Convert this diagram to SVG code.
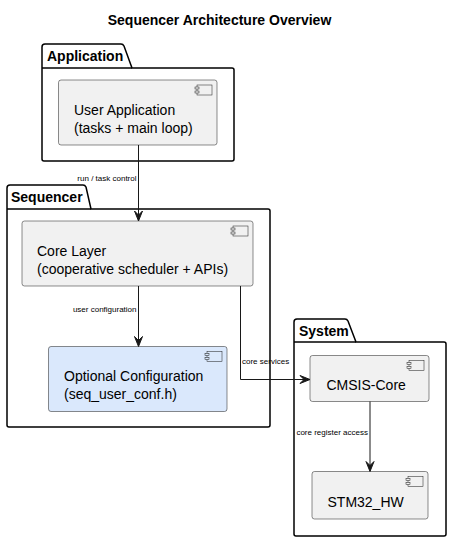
<svg xmlns="http://www.w3.org/2000/svg" width="452" height="541" viewBox="0 0 452 541">
<defs>
<style>
text{font-family:"Liberation Sans",Arial,sans-serif;fill:#000}
.title{font-size:14px;font-weight:bold}
.pkg{fill:#fff;stroke:#000;stroke-width:1.5}
.pkgl{font-size:14px;font-weight:bold}
.node{fill:#F1F1F1;stroke:#181818;stroke-width:0.5}
.cfg{fill:#DAE8FC;stroke:#181818;stroke-width:0.5}
.nt{font-size:14px}
.ico{fill:none;stroke:#181818;stroke-width:0.5}
.icof{stroke:#181818;stroke-width:0.5}
.edge{fill:none;stroke:#181818;stroke-width:1}
.el{font-size:8px}
.ah{fill:#181818;stroke:#181818;stroke-width:1}
</style>
<g id="icon">
<rect class="ico" x="-20" y="5" width="15" height="10"/>
<rect class="icof" x="-22" y="7" width="4" height="2" fill="#F1F1F1"/>
<rect class="icof" x="-22" y="11" width="4" height="2" fill="#F1F1F1"/>
</g>
<g id="iconb">
<rect class="ico" x="-20" y="5" width="15" height="10"/>
<rect class="icof" x="-22" y="7" width="4" height="2" fill="#DAE8FC"/>
<rect class="icof" x="-22" y="11" width="4" height="2" fill="#DAE8FC"/>
</g>
</defs>
<rect width="452" height="541" fill="#fff"/>
<text class="title" x="219.5" y="25" text-anchor="middle">Sequencer Architecture Overview</text>

<g id="pkg-application">
<path class="pkg" d="M45,44 L121,44 Q123,44 124,46 L132,68 L232,68 Q234,68 234,70 L234,159 Q234,161 232,161 L44,161 Q42,161 42,159 L42,47 Q42,44 45,44 Z"/>
<line x1="42" y1="68" x2="132" y2="68" stroke="#000" stroke-width="1.5"/>
<text class="pkgl" x="47" y="61">Application</text>
</g>

<g id="pkg-sequencer">
<path class="pkg" d="M10,185 L83,185 Q85,185 86,187 L91,209 L268,209 Q270,209 270,211 L270,425 Q270,427 268,427 L9,427 Q7,427 7,425 L7,188 Q7,185 10,185 Z"/>
<line x1="7" y1="209" x2="91" y2="209" stroke="#000" stroke-width="1.5"/>
<text class="pkgl" x="11" y="202">Sequencer</text>
</g>

<g id="pkg-system">
<path class="pkg" d="M297,319 L345,319 Q347,319 348,321 L356,342 L444,342 Q446,342 446,344 L446,534 Q446,536 444,536 L296,536 Q294,536 294,534 L294,322 Q294,319 297,319 Z"/>
<line x1="294" y1="342" x2="356" y2="342" stroke="#000" stroke-width="1.5"/>
<text class="pkgl" x="299" y="336">System</text>
</g>

<g id="node-user-application">
<rect class="node" x="58.5" y="80" width="158.5" height="65" rx="2.5"/>
<use href="#icon" x="217" y="80"/>
<text class="nt" x="74" y="115">User Application</text>
<text class="nt" x="74" y="133">(tasks + main loop)</text>
</g>

<g id="node-core-layer">
<rect class="node" x="22" y="221" width="231" height="65" rx="2.5"/>
<use href="#icon" x="253" y="221"/>
<text class="nt" x="37" y="256">Core Layer</text>
<text class="nt" x="37" y="274">(cooperative scheduler + APIs)</text>
</g>

<g id="node-optional-configuration">
<rect class="cfg" x="48.5" y="346.5" width="178.5" height="65" rx="2.5"/>
<use href="#iconb" x="227" y="346.5"/>
<text class="nt" x="64" y="381">Optional Configuration</text>
<text class="nt" x="64" y="399">(seq_user_conf.h)</text>
</g>

<g id="node-cmsis-core">
<rect class="node" x="310" y="355.5" width="119" height="46" rx="2.5"/>
<use href="#icon" x="429" y="355.5"/>
<text class="nt" x="326.5" y="390">CMSIS-Core</text>
</g>

<g id="node-stm32-hw">
<rect class="node" x="312" y="471.5" width="116" height="47.5" rx="2.5"/>
<use href="#icon" x="428" y="471.5"/>
<text class="nt" x="327.5" y="507">STM32_HW</text>
</g>

<g id="connectors">
<path class="edge" d="M138.5,145 L138.5,220"/>
<polygon class="ah" points="134.5,211 138.5,221 142.5,211 138.5,215"/>
<text class="el" x="136.5" y="181" text-anchor="end">run / task control</text>

<path class="edge" d="M138.5,286 L138.5,345"/>
<polygon class="ah" points="134.5,336.5 138.5,346.5 142.5,336.5 138.5,340.5"/>
<text class="el" x="136.5" y="312" text-anchor="end">user configuration</text>

<path class="edge" d="M240.5,286 L240.5,379.5 L309,379.5"/>
<polygon class="ah" points="300,375.5 310,379.5 300,383.5 304,379.5"/>
<text class="el" x="242" y="364">core services</text>

<path class="edge" d="M370,401.5 L370,470.5"/>
<polygon class="ah" points="366,461.5 370,471.5 374,461.5 370,465.5"/>
<text class="el" x="368" y="435" text-anchor="end">core register access</text>
</g>
</svg>
